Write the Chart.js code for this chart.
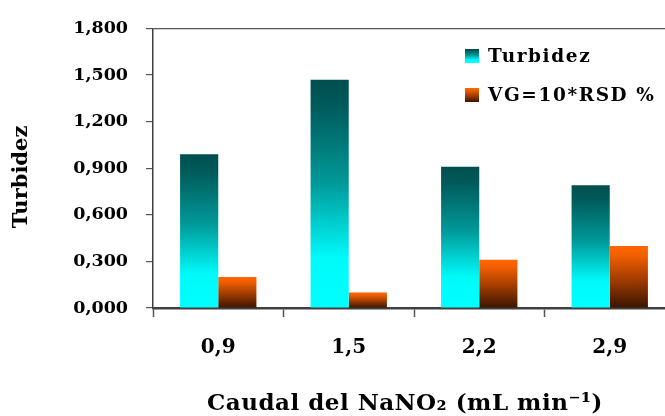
<!DOCTYPE html>
<html>
<head>
<meta charset="utf-8">
<script src="https://cdn.jsdelivr.net/npm/chart.js@4"></script>
<style>
  html, body { margin: 0; padding: 0; background: #fff; overflow: hidden; }
  #wrap { width: 680px; height: 416px; }
</style>
</head>
<body>
<div id="wrap"><canvas id="turbChart"></canvas></div>
<script>
const categories = ['0,9', '1,5', '2,2', '2,9'];
const turbidez = [0.99, 1.47, 0.91, 0.79];
const vgRsd = [0.20, 0.10, 0.31, 0.40];
const yTickValues = [0, 0.3, 0.6, 0.9, 1.2, 1.5, 1.8];

const FONT = "'DejaVu Serif', serif";

const tealStops = [[0, '#004f4f'], [0.1, '#005858'], [0.45, '#009898'], [0.78, '#00fafa'], [1, '#00ffff']];
const orangeStops = [[0, '#ff6600'], [0.15, '#f25f00'], [0.55, '#a03c00'], [1, '#3a1400']];

function makeGradient(c, y0, y1, stops) {
    const g = c.createLinearGradient(0, y0, 0, y1);
    stops.forEach(s => g.addColorStop(s[0], s[1]));
    return g;
}

// each bar gets its own vertical gradient, from its top down to zero
function barFill(stops) {
    return function(context) {
        const chart = context.chart;
        if (!chart.chartArea || context.type !== 'data') return stops[0][1];
        const y = chart.scales.y;
        return makeGradient(chart.ctx, y.getPixelForValue(context.raw), y.getPixelForValue(0), stops);
    };
}

const legendItems = [
    { text: 'Turbidez', stops: tealStops, y: 49 },
    { text: 'VG=10*RSD %', stops: orangeStops, y: 88 }
];

const decorPlugin = {
    id: 'decor',
    afterDraw(chart) {
        const c = chart.ctx;
        c.save();
        // legend
        legendItems.forEach(item => {
            c.fillStyle = makeGradient(c, item.y, item.y + 14, item.stops);
            c.fillRect(465, item.y, 14, 14);
            c.fillStyle = '#000';
            c.font = 'bold 18.5px ' + FONT;
            c.letterSpacing = '1.6px';
            c.textAlign = 'left';
            c.textBaseline = 'middle';
            c.fillText(item.text, 488, item.y + 8);
        });
        c.letterSpacing = '0px';
        // y title
        c.save();
        c.translate(22, 177);
        c.rotate(-Math.PI / 2);
        c.font = 'bold 21px ' + FONT;
        c.textAlign = 'center';
        c.textBaseline = 'middle';
        c.fillText('Turbidez', 0, 0);
        c.restore();
        // x title
        c.font = 'bold 23px ' + FONT;
        c.letterSpacing = '0.5px';
        c.textAlign = 'center';
        c.textBaseline = 'middle';
        c.fillText('Caudal del NaNO\u2082 (mL min\u207B\u00B9)', 405, 404);
        c.restore();
    }
};

const ctx = document.getElementById('turbChart').getContext('2d');

const turbChart = new Chart(ctx, {
    type: 'bar',
    data: {
        labels: categories,
        datasets: [{
            label: 'Turbidez',
            data: turbidez,
            backgroundColor: barFill(tealStops),
            borderWidth: 0
        }, {
            label: 'VG=10*RSD %',
            data: vgRsd,
            backgroundColor: barFill(orangeStops),
            borderWidth: 0
        }]
    },
    options: {
        responsive: true,
        maintainAspectRatio: false,
        animation: false,
        categoryPercentage: 0.585,
        barPercentage: 1,
        layout: { padding: { top: 25, right: 5, left: 0, bottom: 0 } },
        plugins: {
            legend: { display: false },
            tooltip: { enabled: false }
        },
        scales: {
            x: {
                offset: true,
                grid: {
                    offset: true,
                    drawOnChartArea: false,
                    tickLength: 9,
                    tickColor: '#555',
                    tickWidth: 1.5
                },
                border: { color: '#404040', width: 2.5 },
                ticks: {
                    color: '#000',
                    font: { family: FONT, weight: 'bold', size: 20 },
                    padding: 19
                },
                afterFit(scale) { scale.height = 108; }
            },
            y: {
                min: 0,
                max: 1.8,
                afterBuildTicks(scale) {
                    scale.ticks = yTickValues.map(v => ({ value: v }));
                },
                grid: {
                    color: c => (c.tick && c.tick.value === 1.8 ? '#555' : 'rgba(0,0,0,0)'),
                    lineWidth: 1.2,
                    tickColor: '#555',
                    tickLength: 7
                },
                border: { color: '#404040', width: 1.5 },
                ticks: {
                    color: '#000',
                    font: { family: FONT, weight: 'bold', size: 17.5 },
                    padding: 18,
                    callback: v => v.toFixed(3).replace('.', ',')
                },
                afterFit(scale) { scale.width = 153; }
            }
        }
    },
    plugins: [decorPlugin]
});
</script>
</body>
</html>
